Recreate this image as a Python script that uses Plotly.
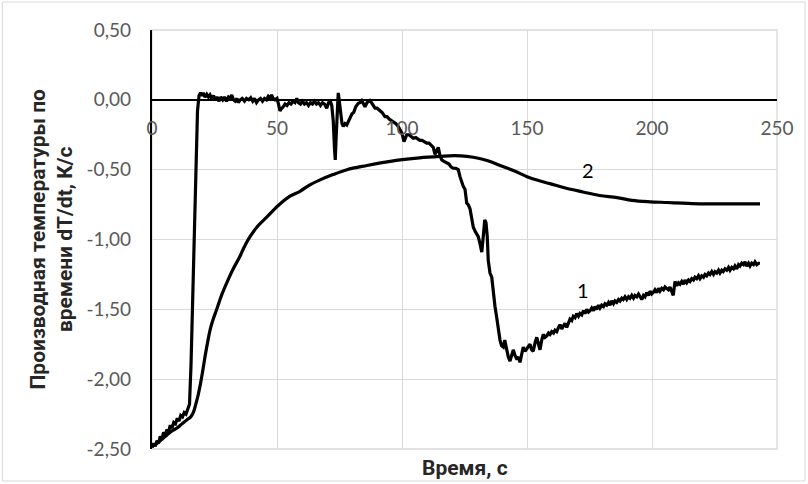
import plotly.graph_objects as go

# Curve 1 (noisy measured derivative)
t1 = [0, 0.7, 1.3, 2.0, 2.6, 3.3, 4.0, 4.6, 5.3, 6.0, 6.6, 7.3, 8.0, 8.7, 9.4, 10.1, 10.8, 11.5, 12.2, 12.9,
      13.6, 14.3, 15.0, 15.6, 16.3, 17.0, 17.6, 18.2, 18.8, 19.4, 20.0, 20.5, 21.2, 21.9, 22.6, 23.2, 23.9, 24.6,
      25.3, 26.0, 26.8, 27.5, 28.3, 29.0, 29.8, 30.6, 31.3, 31.9, 32.6, 33.3, 34.0, 34.5, 35.3, 36.1, 37.0, 37.8,
      38.7, 39.5, 40.3, 41.0, 41.8, 42.6, 43.4, 44.2, 45.0, 45.8, 46.5, 47.2, 47.8, 48.5, 49.2, 50.0, 50.6, 51.2,
      51.9, 52.5, 53.2, 54.0, 54.8, 55.6, 56.4, 57.2, 57.9, 58.6, 59.4, 60.2, 61.0, 61.8, 62.6, 63.4, 64.2, 65.0,
      65.8, 66.6, 67.4, 68.2, 69.0, 69.9, 70.6, 71.3, 71.9, 72.5, 73.0, 73.3, 73.7, 74.1, 74.5, 75.0, 75.5, 76.0,
      76.5, 77.2, 77.9, 78.6, 79.2, 80.0, 80.7, 81.5, 82.5, 83.2, 83.9, 84.5, 85.2, 86.0, 86.6, 87.2, 87.8, 88.5,
      89.2, 90.0, 91.2, 92.0, 93.2, 94.0, 95.0, 96.5, 97.5, 98.5, 99.2, 100.0, 100.8, 101.3, 101.9, 102.8, 103.6,
      104.5, 105.5, 106.4, 107.2, 108.0, 109.0, 109.9, 110.8, 111.9, 112.5, 113.2, 113.8, 114.5, 115.2, 115.9,
      116.8, 117.9, 118.8, 119.6, 120.5, 121.5, 122.5, 123.2, 123.9, 124.5, 125.2, 125.9, 126.5, 127.2, 128.0,
      128.5, 129.2, 129.9, 130.5, 131.2, 131.9, 132.5, 133.1, 133.6, 134.1, 134.5, 135.2, 135.9, 136.5, 137.2,
      137.9, 138.6, 139.2, 139.8, 140.5, 141.1, 141.8, 142.5, 143.2, 143.9, 144.5, 145.2, 146.0, 146.6, 147.2,
      147.9, 148.5, 149.2, 150.0, 150.6, 151.2, 151.9, 152.5, 153.2, 153.9, 154.6, 155.2, 155.9, 156.5, 157.2,
      157.9, 158.6, 159.2, 159.9, 160.6, 161.2, 161.9, 162.6, 163.2, 163.9, 164.6, 165.2, 165.9, 166.6, 167.2,
      167.9, 168.5, 169.2, 169.9, 170.6, 171.2, 171.9, 172.6, 173.2, 173.9, 174.6, 175.2, 175.9, 176.6, 177.2,
      177.9, 178.6, 179.2, 179.9, 180.6, 181.2, 181.9, 182.6, 183.2, 183.9, 184.6, 185.2, 185.9, 186.6, 187.2,
      187.9, 188.5, 189.2, 189.9, 190.6, 191.2, 191.9, 192.6, 193.2, 193.9, 194.6, 195.2, 195.9, 196.6, 197.2,
      197.9, 198.6, 199.2, 199.9, 200.5, 201.2, 201.9, 202.6, 203.2, 203.9, 204.6, 205.2, 205.9, 206.6, 207.2,
      207.9, 208.5, 209.2, 209.9, 210.6, 211.2, 211.9, 212.6, 213.2, 213.9, 214.6, 215.2, 215.9, 216.6, 217.2,
      217.9, 218.6, 219.2, 219.9, 220.6, 221.2, 221.9, 222.6, 223.2, 223.9, 224.6, 225.2, 225.9, 226.6, 227.2,
      227.9, 228.5, 229.2, 229.9, 230.6, 231.2, 231.9, 232.6, 233.2, 233.9, 234.6, 235.2, 235.9, 236.6, 237.2,
      237.9, 238.6, 239.2, 239.9, 240.6, 241.2, 241.9, 242.6, 243.2]
v1 = [-2.49, -2.46, -2.48, -2.44, -2.46, -2.41, -2.43, -2.38, -2.40, -2.36, -2.38, -2.33, -2.35, -2.31, -2.32, -2.28,
      -2.30, -2.26, -2.27, -2.24, -2.25, -2.21, -2.18, -1.90, -1.40, -0.90, -0.45, -0.08, 0.03, 0.05, 0.03, 0.05,
      0.02, 0.04, 0.02, 0.035, 0.01, 0.03, 0.0, 0.02, -0.01, 0.02, 0.0, 0.02, -0.01, 0.02, 0.01, 0.035, 0.0, -0.01,
      0.01, -0.02, 0.0, 0.01, -0.01, 0.01, 0.0, 0.015, -0.01, 0.01, -0.02, 0.0, 0.01, -0.01, 0.01, 0.0, 0.025, 0.01,
      0.035, 0.01, 0.0, 0.01, -0.03, -0.08, -0.06, -0.05, -0.03, -0.04, -0.02, -0.03, -0.01, -0.02, 0.01, -0.02,
      -0.03, -0.01, -0.03, -0.02, -0.04, -0.02, -0.03, -0.01, -0.03, -0.02, -0.04, -0.02, -0.03, -0.06, -0.02,
      -0.01, -0.04, -0.15, -0.35, -0.43, -0.25, -0.05, 0.05, -0.02, -0.12, -0.17, -0.19, -0.17, -0.18, -0.15,
      -0.12, -0.10, -0.09, -0.05, -0.025, -0.02, -0.005, -0.03, -0.05, -0.02, -0.01, -0.005, -0.02, -0.04, -0.06,
      -0.06, -0.08, -0.09, -0.12, -0.12, -0.14, -0.155, -0.17, -0.19, -0.215, -0.24, -0.30, -0.27, -0.25, -0.25,
      -0.26, -0.275, -0.27, -0.28, -0.29, -0.29, -0.30, -0.31, -0.31, -0.33, -0.34, -0.39, -0.36, -0.34, -0.40,
      -0.43, -0.44, -0.45, -0.46, -0.48, -0.49, -0.49, -0.50, -0.55, -0.60, -0.62, -0.64, -0.74, -0.75, -0.78,
      -0.86, -0.91, -0.94, -0.96, -0.98, -1.03, -1.09, -0.98, -0.86, -0.88, -0.98, -1.15, -1.24, -1.27, -1.38,
      -1.48, -1.56, -1.65, -1.72, -1.76, -1.77, -1.72, -1.79, -1.84, -1.87, -1.82, -1.79, -1.83, -1.86, -1.84,
      -1.88, -1.82, -1.77, -1.80, -1.78, -1.76, -1.75, -1.79, -1.80, -1.74, -1.70, -1.75, -1.79, -1.72, -1.68,
      -1.70, -1.69, -1.67, -1.68, -1.66, -1.67, -1.65, -1.66, -1.63, -1.61, -1.64, -1.62, -1.60, -1.63, -1.59,
      -1.57, -1.58, -1.55, -1.56, -1.53, -1.55, -1.53, -1.54, -1.51, -1.53, -1.50, -1.52, -1.51, -1.49, -1.51,
      -1.48, -1.50, -1.47, -1.49, -1.47, -1.48, -1.46, -1.47, -1.45, -1.47, -1.44, -1.46, -1.44, -1.45, -1.43,
      -1.44, -1.42, -1.43, -1.41, -1.43, -1.41, -1.42, -1.40, -1.42, -1.40, -1.41, -1.39, -1.41, -1.43, -1.40,
      -1.41, -1.38, -1.40, -1.37, -1.39, -1.38, -1.36, -1.38, -1.35, -1.37, -1.35, -1.36, -1.34, -1.35, -1.36,
      -1.34, -1.37, -1.40, -1.30, -1.33, -1.31, -1.32, -1.30, -1.32, -1.29, -1.31, -1.29, -1.30, -1.28, -1.29,
      -1.27, -1.28, -1.26, -1.28, -1.26, -1.27, -1.25, -1.26, -1.24, -1.25, -1.23, -1.25, -1.23, -1.24, -1.22,
      -1.24, -1.22, -1.23, -1.21, -1.22, -1.20, -1.22, -1.20, -1.21, -1.19, -1.21, -1.18, -1.19, -1.17, -1.18,
      -1.16, -1.19, -1.17, -1.19, -1.17, -1.18, -1.16, -1.18, -1.17, -1.17]

# Curve 2 (smooth)
t2 = [0, 2, 4, 6, 8, 10, 12, 14, 15.5, 16.5, 17.5, 18.5, 19.2, 20.2, 21.2, 22.2, 23.2, 24.5, 25.9, 27.8, 29.9,
      32.5, 35.2, 37.0, 39.2, 42.5, 45.9, 50.3, 55.2, 59.2, 63, 67, 72.4, 78, 86, 92, 99.2, 107, 115.2, 121, 126,
      131, 135, 139.2, 145, 150, 155, 159.2, 165, 172.4, 179, 186, 192, 199.2, 206, 212.4, 220, 230, 243.2]
v2 = [-2.48, -2.46, -2.43, -2.40, -2.37, -2.35, -2.32, -2.29, -2.27, -2.24, -2.18, -2.11, -2.05, -1.95, -1.84,
      -1.74, -1.65, -1.57, -1.50, -1.40, -1.31, -1.21, -1.12, -1.05, -0.98, -0.90, -0.84, -0.76, -0.69, -0.655,
      -0.61, -0.575, -0.535, -0.50, -0.47, -0.45, -0.43, -0.415, -0.405, -0.40, -0.405, -0.42, -0.44, -0.47,
      -0.51, -0.55, -0.58, -0.60, -0.63, -0.66, -0.685, -0.70, -0.72, -0.73, -0.735, -0.74, -0.745, -0.745, -0.745]

x_ticks = [0, 50, 100, 150, 200, 250]
x_tick_labels = ["0", "50", "100", "150", "200", "250"]
y_ticks = [0.5, 0.0, -0.5, -1.0, -1.5, -2.0, -2.5]
y_tick_labels = ["0,50", "0,00", "-0,50", "-1,00", "-1,50", "-2,00", "-2,50"]

curve_labels = ["1", "2"]
label_x = [172.4, 174.4]
label_y = [-1.36, -0.50]

FONT = "Lato, 'Open Sans', sans-serif"
TFONT = "Roboto, 'Noto Sans', sans-serif"
GRID = "#d9d9d9"
TICKC = "#595959"

fig = go.Figure()
fig.add_trace(go.Scatter(x=t1, y=v1, mode="lines", line=dict(color="black", width=3.2), showlegend=False))
fig.add_trace(go.Scatter(x=t2, y=v2, mode="lines", line=dict(color="black", width=3.2, shape="spline"),
                         showlegend=False))

for txt, lx, ly in zip(curve_labels, label_x, label_y):
    fig.add_annotation(x=lx, y=ly, text=txt, showarrow=False, xref="x", yref="y",
                       font=dict(family=FONT, size=20, color="black"))

# axis titles
fig.add_annotation(x=0.5, y=-0.045, xref="paper", yref="paper", xanchor="center", yanchor="middle",
                   text="<b>Время, с</b>",
                   showarrow=False, font=dict(family=TFONT, size=21, color="#262626"))
fig.add_annotation(x=-0.1616, y=0.5, xref="paper", yref="paper", xanchor="center", yanchor="middle",
                   textangle=-90,
                   text="<b>Производная температуры по<br>времени dT/dt, К/с</b>",
                   showarrow=False, font=dict(family=TFONT, size=21, color="#262626"))

# plot-area frame and chart border
fig.add_shape(type="rect", xref="paper", yref="paper", x0=0, x1=1, y0=0, y1=1,
              line=dict(color=GRID, width=1.3), layer="below")
fig.add_shape(type="rect", xref="paper", yref="paper", x0=-0.2395, x1=1.0448, y0=-0.0764, y1=1.0668,
              line=dict(color=GRID, width=1))

fig.update_layout(
    width=808, height=484,
    margin=dict(l=152, r=31, t=30, b=35),
    paper_bgcolor="white", plot_bgcolor="white",
    font=dict(family=FONT),
    xaxis=dict(range=[0, 250], tickvals=x_ticks, ticktext=x_tick_labels, showgrid=True, gridcolor=GRID,
               gridwidth=1.3, anchor="free", position=2.5 / 3, showline=True, linecolor="black", linewidth=2.4,
               ticks="outside", ticklen=11, tickcolor="rgba(0,0,0,0)", zeroline=False,
               tickfont=dict(family=FONT, size=19, color=TICKC)),
    yaxis=dict(range=[-2.5, 0.5], tickvals=y_ticks, ticktext=y_tick_labels, showgrid=True, gridcolor=GRID,
               gridwidth=1.3, showline=True, linecolor="black", linewidth=2.4, zeroline=False,
               ticks="outside", ticklen=15, tickcolor="rgba(0,0,0,0)",
               tickfont=dict(family=FONT, size=19, color=TICKC)),
)

fig.write_html("out.html")
